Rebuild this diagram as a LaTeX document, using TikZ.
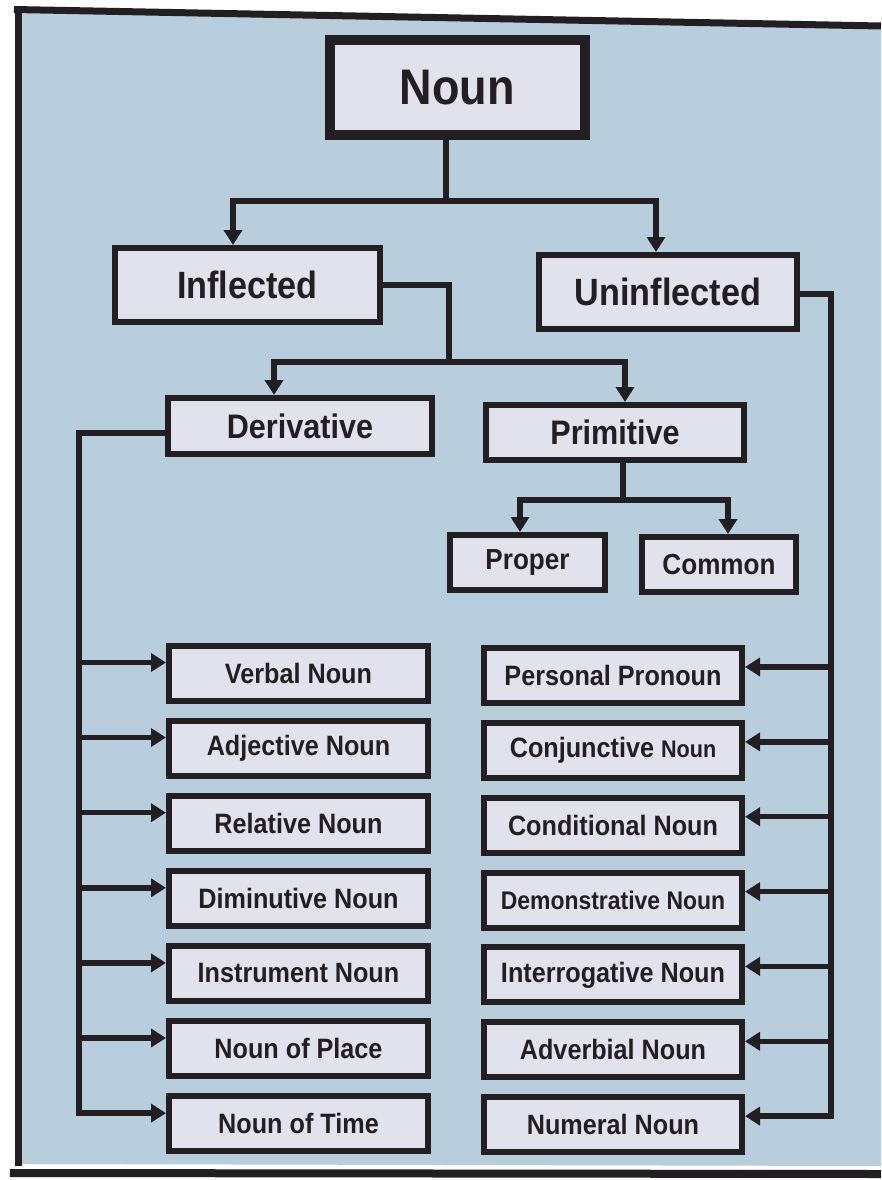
\documentclass[tikz,border=0pt]{standalone}
\usepackage{fontspec}
\setmainfont{Liberation Sans}[FakeStretch=0.9]
\usetikzlibrary{arrows.meta}
\definecolor{slide}{RGB}{185,206,221}
\definecolor{boxfill}{RGB}{225,226,236}
\definecolor{ink}{RGB}{35,30,33}

\begin{document}
\begin{tikzpicture}[x=1pt,y=-1pt,
  box/.style={draw=ink, fill=boxfill, line width=6pt, inner sep=0pt, text=ink},
  fs/.style={font=\bfseries\fontsize{#1}{#1}\selectfont},
  item/.style={box, fs=28, minimum width=259pt, minimum height=55pt},
  ritem/.style={item, minimum width=258pt},
  link/.style={draw=ink, line width=5.5pt},
  arr/.style={link, -{Triangle[width=18pt,length=15pt]}},
]
% page and slide
\path[use as bounding box, fill=white] (0,0) rectangle (881,1180);
\fill[slide] (22,12) -- (881,28) -- (881,1166) -- (22,1164) -- cycle;
\draw[ink, line width=7pt] (18,1166) -- (18,6);
\draw[ink, line width=7pt] (14,9.5) -- (881,26);
\draw[ink, line width=8pt] (10,1173) -- (881,1174);

% upper levels
\node[box, fs=50, line width=10pt, minimum width=255pt, minimum height=95pt] (noun) at (457,87.5) {Noun};
\node[box, fs=38, minimum width=265pt, minimum height=74pt] (infl) at (247.5,285) {Inflected};
\node[box, fs=38, minimum width=258pt, minimum height=74pt] (uninf) at (668,292) {Uninflected};
\node[box, fs=34, minimum width=264pt, minimum height=56pt] (deriv) at (300,426) {Derivative};
\node[box, fs=34, minimum width=258pt, minimum height=55pt] (prim) at (615,432.5) {Primitive};
\node[box, fs=29, minimum width=155pt, minimum height=55pt] (proper) at (527.5,562.5) {Proper};
\node[box, fs=29, minimum width=154pt, minimum height=55pt] (common) at (719,564.5) {Common};

% derivative nouns
\node[item] (l1) at (298.5,673) {Verbal Noun};
\node[item] (l2) at (298.5,748) {Adjective Noun};
\node[item] (l3) at (298.5,823.2) {Relative Noun};
\node[item] (l4) at (298.5,898.3) {Diminutive Noun};
\node[item] (l5) at (298.5,973.4) {Instrument Noun};
\node[item] (l6) at (298.5,1048.5) {Noun of Place};
\node[item] (l7) at (298.5,1123.6) {Noun of Time};

% uninflected nouns
\node[ritem] (r1) at (613,675.5) {Personal Pronoun};
\node[ritem] (r2) at (613,750.4) {Conjunctive {\fontsize{24}{24}\selectfont Noun}};
\node[ritem] (r3) at (613,825.2) {Conditional Noun};
\node[ritem, fs=25.5] (r4) at (613,900.1) {Demonstrative Noun};
\node[ritem] (r5) at (613,974.9) {Interrogative Noun};
\node[ritem] (r6) at (613,1049.8) {Adverbial Noun};
\node[ritem] (r7) at (613,1124.6) {Numeral Noun};

% Noun -> Inflected / Uninflected
\draw[link] ([xshift=-11pt]noun.south) -- ++(0,61) coordinate (j1);
\draw[arr] (j1) -| ([xshift=-14.5pt]infl.north);
\draw[arr] (j1) -| ([xshift=-12pt]uninf.north);

% Inflected -> Derivative / Primitive
\coordinate (j2) at (449,362);
\draw[link] (infl.east) -| (j2);
\draw[arr] (j2) -| ([xshift=-26pt]deriv.north);
\draw[arr] (j2) -| ([xshift=10pt]prim.north);

% Primitive -> Proper / Common
\draw[link] ([xshift=8pt]prim.south) -- ++(0,37) coordinate (j3);
\draw[arr] (j3) -| ([xshift=-7.5pt]proper.north);
\draw[arr] (j3) -| ([xshift=9pt]common.north);

% Derivative trunk
\coordinate (lt) at (79,433);
\foreach \i in {1,...,7} \coordinate (li\i) at ([yshift=10.5pt]l\i.west);
\draw[arr] ([yshift=-7pt]deriv.west) -- (lt) |- (li7);
\foreach \i in {1,...,6} \draw[arr] (lt |- li\i) -- (li\i);

% Uninflected trunk
\coordinate (rt) at (831,294);
\foreach \i in {1,...,7} \coordinate (ri\i) at ([yshift=8.5pt]r\i.east);
\draw[arr] ([yshift=-2pt]uninf.east) -- (rt) |- (ri7);
\foreach \i in {1,...,6} \draw[arr] (rt |- ri\i) -- (ri\i);
\end{tikzpicture}
\end{document}
